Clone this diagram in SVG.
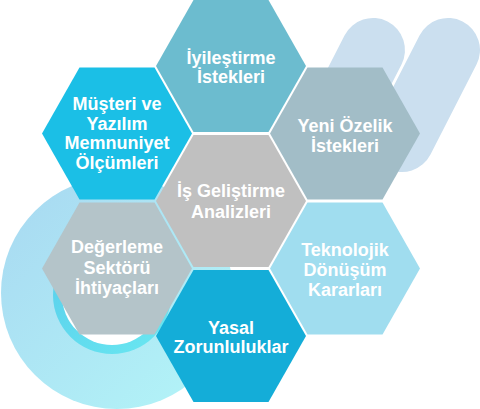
<svg xmlns="http://www.w3.org/2000/svg" width="480" height="409" viewBox="0 0 480 409">
<defs>
<style>
.t{font-family:"Liberation Sans",Arial,Helvetica,sans-serif;font-weight:700;font-size:18px;fill:#ffffff;text-anchor:middle}
.cap{stroke:#CBDFEF;stroke-width:64;stroke-linecap:round;fill:none}
</style>
<linearGradient id="ringG" x1="0" y1="0" x2="1" y2="1">
<stop offset="0" stop-color="#A8D8F1"/>
<stop offset="1" stop-color="#B3F6F8"/>
</linearGradient>
<linearGradient id="bandG" x1="0" y1="0" x2="1" y2="1">
<stop offset="0" stop-color="#58CDEB"/>
<stop offset="1" stop-color="#6AE8F1"/>
</linearGradient>
<polygon id="hex" points="-75,0 -37.5,-66 37.5,-66 75,0 37.5,66 -37.5,66"/>
</defs>
<g id="background">
<circle cx="117" cy="293" r="116" fill="url(#ringG)"/>
<circle cx="112" cy="295" r="59" fill="url(#bandG)"/>
<circle cx="112" cy="295" r="50" fill="#ffffff"/>
<line class="cap" x1="373" y1="50" x2="327" y2="140"/>
<line class="cap" x1="448" y1="50" x2="402" y2="140"/>
</g>
<g id="node-iyilestirme">
<use href="#hex" x="231" y="66" fill="#6CBCCF"/>
<text class="t" x="231" y="64">İyileştirme</text>
<text class="t" x="231" y="83">İstekleri</text>
</g>
<g id="node-musteri">
<use href="#hex" x="117" y="133.5" fill="#1BBFE6"/>
<text class="t" x="117" y="110">Müşteri ve</text>
<text class="t" x="117" y="129.5">Yazılım</text>
<text class="t" x="117" y="149">Memnuniyet</text>
<text class="t" x="117" y="168.5">Ölçümleri</text>
</g>
<g id="node-yeni">
<use href="#hex" x="345" y="133.5" fill="#A2BDC7"/>
<text class="t" x="345" y="132">Yeni Özelik</text>
<text class="t" x="345" y="152">İstekleri</text>
</g>
<g id="node-is">
<use href="#hex" x="231" y="201" fill="#C0C0C0"/>
<text class="t" x="231" y="197">İş Geliştirme</text>
<text class="t" x="231" y="218">Analizleri</text>
</g>
<g id="node-degerleme">
<use href="#hex" x="117" y="268.5" fill="#B4C4C9"/>
<text class="t" x="117" y="253">Değerleme</text>
<text class="t" x="117" y="274">Sektörü</text>
<text class="t" x="117" y="294">İhtiyaçları</text>
</g>
<g id="node-teknolojik">
<use href="#hex" x="345" y="268.5" fill="#A0DDEF"/>
<text class="t" x="345" y="256">Teknolojik</text>
<text class="t" x="345" y="276">Dönüşüm</text>
<text class="t" x="345" y="296">Kararları</text>
</g>
<g id="node-yasal">
<use href="#hex" x="231" y="336" fill="#14ADD8"/>
<text class="t" x="231" y="334">Yasal</text>
<text class="t" x="231" y="353">Zorunluluklar</text>
</g>
</svg>
